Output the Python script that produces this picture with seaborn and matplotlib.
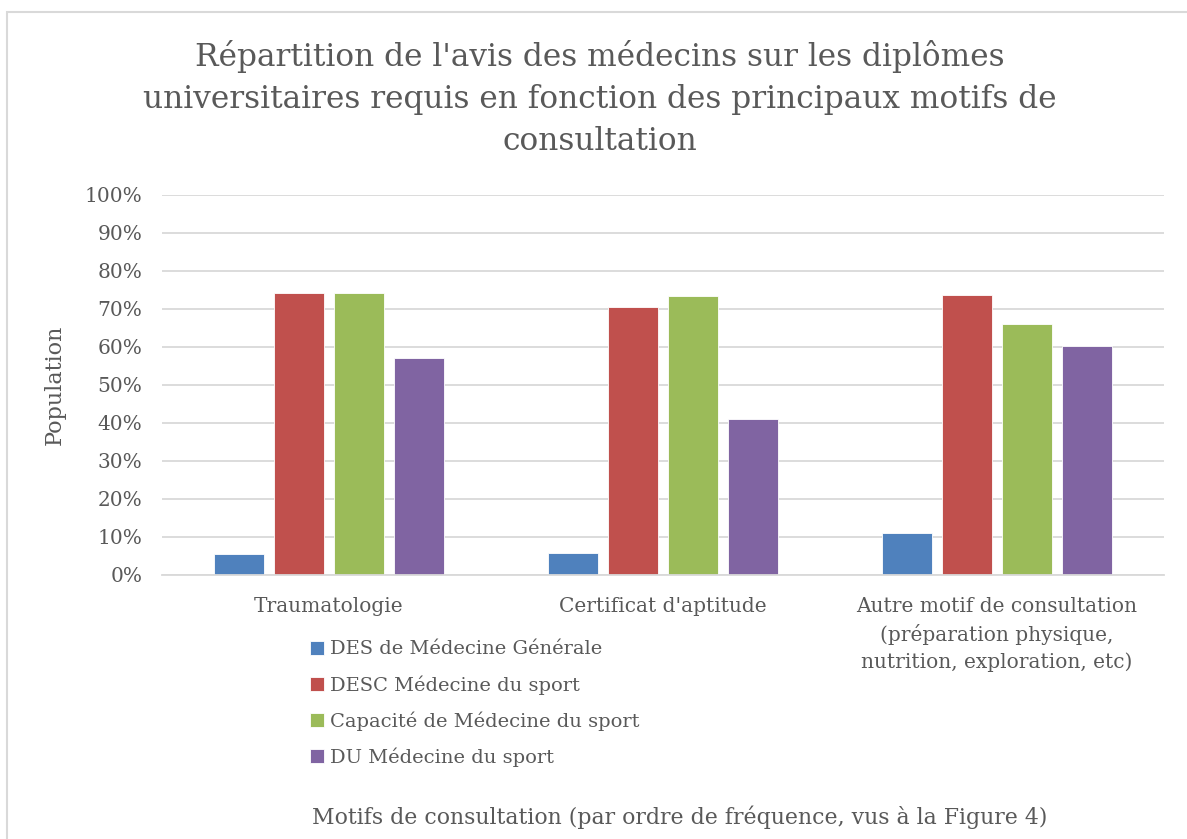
import pandas as pd
import matplotlib.pyplot as plt
import seaborn as sns
from matplotlib.patches import Rectangle

motifs = ["Traumatologie", "Certificat d'aptitude",
          "Autre motif de consultation\n(préparation physique,\nnutrition, exploration, etc)"]
diplomes = ["DES de Médecine Générale", "DESC Médecine du sport",
            "Capacité de Médecine du sport", "DU Médecine du sport"]
des_mg = [5.5, 5.7, 11.1]
desc = [74.2, 70.6, 73.6]
capacite = [74.2, 73.4, 66.0]
du = [57.1, 41.0, 60.3]
couleurs = ["#4F81BD", "#C0504D", "#9BBB59", "#8064A2"]

data = pd.DataFrame({
    "Motif": motifs * 4,
    "Diplome": [d for d in diplomes for _ in motifs],
    "Valeur": des_mg + desc + capacite + du,
})

sns.set_style("white")
plt.rcParams['font.family'] = ['DejaVu Serif']
gris = "#595959"

W, H = 1187, 839
fig = plt.figure(figsize=(W / 100, H / 100), dpi=100)
ax = fig.add_axes([162 / W, 1 - 575 / H, (1164 - 162) / W, 380 / H])

sns.barplot(data=data, x="Motif", y="Valeur", hue="Diplome", palette=couleurs,
            saturation=1, width=0.72, gap=0.17, edgecolor="white", linewidth=0.6, ax=ax)

ax.set_xlim(-0.5, 2.5)
ax.set_ylim(0, 100)
ax.set_yticks(range(0, 101, 10))
ax.set_yticklabels([f"{v}%" for v in range(0, 101, 10)])
ax.yaxis.grid(True, color="#D9D9D9", linewidth=1.3)
ax.set_axisbelow(True)
for s in ["top", "right", "left"]:
    ax.spines[s].set_visible(False)
ax.spines["bottom"].set_color("#D9D9D9")
ax.spines["bottom"].set_linewidth(1.3)
ax.tick_params(axis="both", length=0, colors=gris, labelsize=14.5)
ax.tick_params(axis="y", pad=14)
ax.tick_params(axis="x", pad=16)
for t in ax.get_xticklabels():
    t.set_linespacing(1.45)
ax.set_xlabel("")
ax.set_ylabel("Population", fontsize=16, color=gris, labelpad=14)

handles, labels = ax.get_legend_handles_labels()
ax.get_legend().remove()
fig.legend(handles, labels, loc="upper left", bbox_to_anchor=(292 / W, 1 - 623 / H),
           frameon=False, handlelength=0.75, handleheight=0.75, handletextpad=0.3,
           labelspacing=0.85, fontsize=14, labelcolor=gris)

fig.text(600 / W, 1 - 40 / H,
         "Répartition de l'avis des médecins sur les diplômes\n"
         "universitaires requis en fonction des principaux motifs de\n"
         "consultation",
         ha="center", va="top", fontsize=22.5, color=gris, linespacing=1.45)
fig.text(680 / W, 1 - 817 / H,
         "Motifs de consultation (par ordre de fréquence, vus à la Figure 4)",
         ha="center", va="center", fontsize=15.8, color=gris)

fig.patches.append(Rectangle((7 / W, -0.1), 1.2, 1.1 - 12 / H, transform=fig.transFigure,
                             fill=False, edgecolor="#D9D9D9", linewidth=1.5))

fig.savefig("out.png", dpi=100, facecolor="white")
